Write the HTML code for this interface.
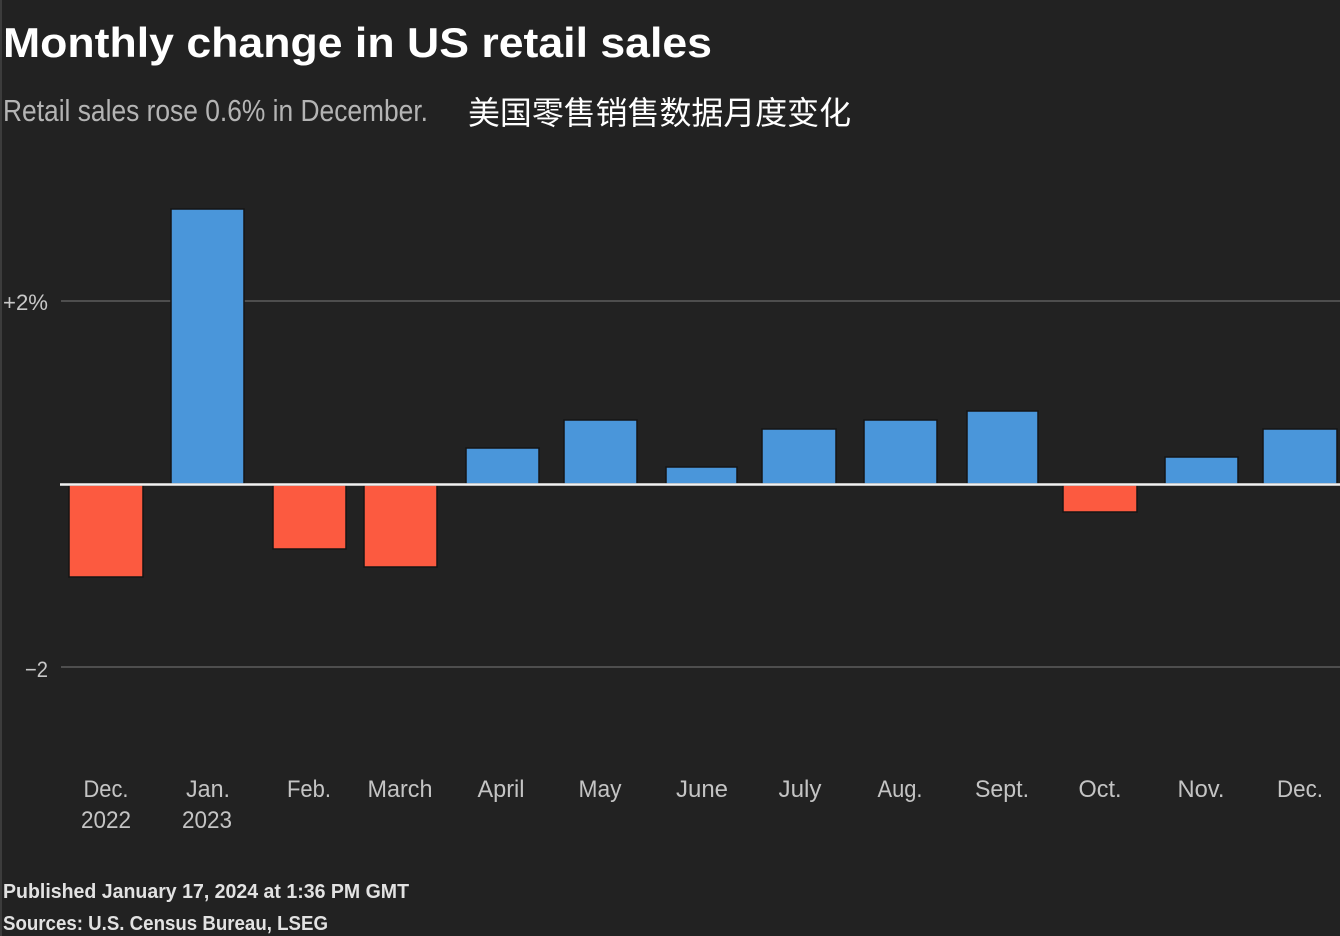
<!DOCTYPE html>
<html>
<head>
<meta charset="utf-8">
<style>
  html, body { margin:0; padding:0; background:#222222; }
  body { width:1340px; height:936px; overflow:hidden; }
  svg { display:block; }
  text { font-family: "Liberation Sans", "Noto Sans CJK SC", sans-serif; }
</style>
</head>
<body>
<svg width="1340" height="936" viewBox="0 0 1340 936" xmlns="http://www.w3.org/2000/svg">
  <rect x="0" y="0" width="1340" height="936" fill="#222222"/>
  <rect x="0" y="0" width="2" height="936" fill="#3c3c3c"/>

  <!-- Title & subtitle -->
  <text x="3" y="57" font-size="42" font-weight="bold" fill="#ffffff" textLength="709" lengthAdjust="spacingAndGlyphs">Monthly change in US retail sales</text>
  <text x="3" y="121" font-size="31" fill="#b4b4b4" textLength="425" lengthAdjust="spacingAndGlyphs">Retail sales rose 0.6% in December.</text>
  <text x="468" y="124" font-size="32" fill="#ffffff" style="font-family:'Noto Sans CJK SC','WenQuanYi Zen Hei',sans-serif" textLength="383" lengthAdjust="spacingAndGlyphs">美国零售销售数据月度变化</text>

  <!-- Gridlines -->
  <line x1="61" y1="301" x2="1340" y2="301" stroke="#5c5c5c" stroke-width="1.5"/>
  <line x1="61" y1="667" x2="1340" y2="667" stroke="#5c5c5c" stroke-width="1.5"/>

  <!-- Y labels -->
  <text x="3" y="310" font-size="22" fill="#c8c8c8" textLength="45" lengthAdjust="spacingAndGlyphs">+2%</text>
  <text x="25" y="677" font-size="22" fill="#c8c8c8" textLength="23" lengthAdjust="spacingAndGlyphs">−2</text>

  <!-- Bars -->
  <g stroke="#141414" stroke-width="1.5">
    <rect x="69" y="485" width="74" height="92" fill="#fc5a40"/>
    <rect x="171" y="209" width="73" height="275" fill="#4a96da"/>
    <rect x="273" y="485" width="73" height="64" fill="#fc5a40"/>
    <rect x="364" y="485" width="73" height="82" fill="#fc5a40"/>
    <rect x="466" y="448" width="73" height="36" fill="#4a96da"/>
    <rect x="564" y="420" width="73" height="64" fill="#4a96da"/>
    <rect x="666" y="467" width="71" height="17" fill="#4a96da"/>
    <rect x="762" y="429" width="74" height="55" fill="#4a96da"/>
    <rect x="864" y="420" width="73" height="64" fill="#4a96da"/>
    <rect x="967" y="411" width="71" height="73" fill="#4a96da"/>
    <rect x="1063" y="485" width="74" height="27" fill="#fc5a40"/>
    <rect x="1165" y="457" width="73" height="27" fill="#4a96da"/>
    <rect x="1263" y="429" width="74" height="55" fill="#4a96da"/>
  </g>

  <!-- Zero baseline -->
  <line x1="60" y1="484.5" x2="1340" y2="484.5" stroke="#f2f2f2" stroke-width="2.5"/>

  <!-- X labels -->
  <g font-size="24" fill="#c4c4c4" text-anchor="middle">
    <text x="106" y="797" textLength="45" lengthAdjust="spacingAndGlyphs">Dec.</text>
    <text x="106" y="828" textLength="50" lengthAdjust="spacingAndGlyphs">2022</text>
    <text x="208" y="797" textLength="44" lengthAdjust="spacingAndGlyphs">Jan.</text>
    <text x="207" y="828" textLength="50" lengthAdjust="spacingAndGlyphs">2023</text>
    <text x="309" y="797" textLength="44" lengthAdjust="spacingAndGlyphs">Feb.</text>
    <text x="400" y="797" textLength="65" lengthAdjust="spacingAndGlyphs">March</text>
    <text x="501" y="797" textLength="47" lengthAdjust="spacingAndGlyphs">April</text>
    <text x="600" y="797" textLength="43" lengthAdjust="spacingAndGlyphs">May</text>
    <text x="702" y="797" textLength="52" lengthAdjust="spacingAndGlyphs">June</text>
    <text x="800" y="797" textLength="43" lengthAdjust="spacingAndGlyphs">July</text>
    <text x="900" y="797" textLength="45" lengthAdjust="spacingAndGlyphs">Aug.</text>
    <text x="1002" y="797" textLength="54" lengthAdjust="spacingAndGlyphs">Sept.</text>
    <text x="1100" y="797" textLength="43" lengthAdjust="spacingAndGlyphs">Oct.</text>
    <text x="1201" y="797" textLength="47" lengthAdjust="spacingAndGlyphs">Nov.</text>
    <text x="1300" y="797" textLength="46" lengthAdjust="spacingAndGlyphs">Dec.</text>
  </g>

  <!-- Footer -->
  <text x="3" y="898" font-size="20" font-weight="bold" fill="#e2e2e2" textLength="406" lengthAdjust="spacingAndGlyphs">Published January 17, 2024 at 1:36 PM GMT</text>
  <text x="3" y="930" font-size="20" font-weight="bold" fill="#e2e2e2" textLength="325" lengthAdjust="spacingAndGlyphs">Sources: U.S. Census Bureau, LSEG</text>
</svg>
</body>
</html>
